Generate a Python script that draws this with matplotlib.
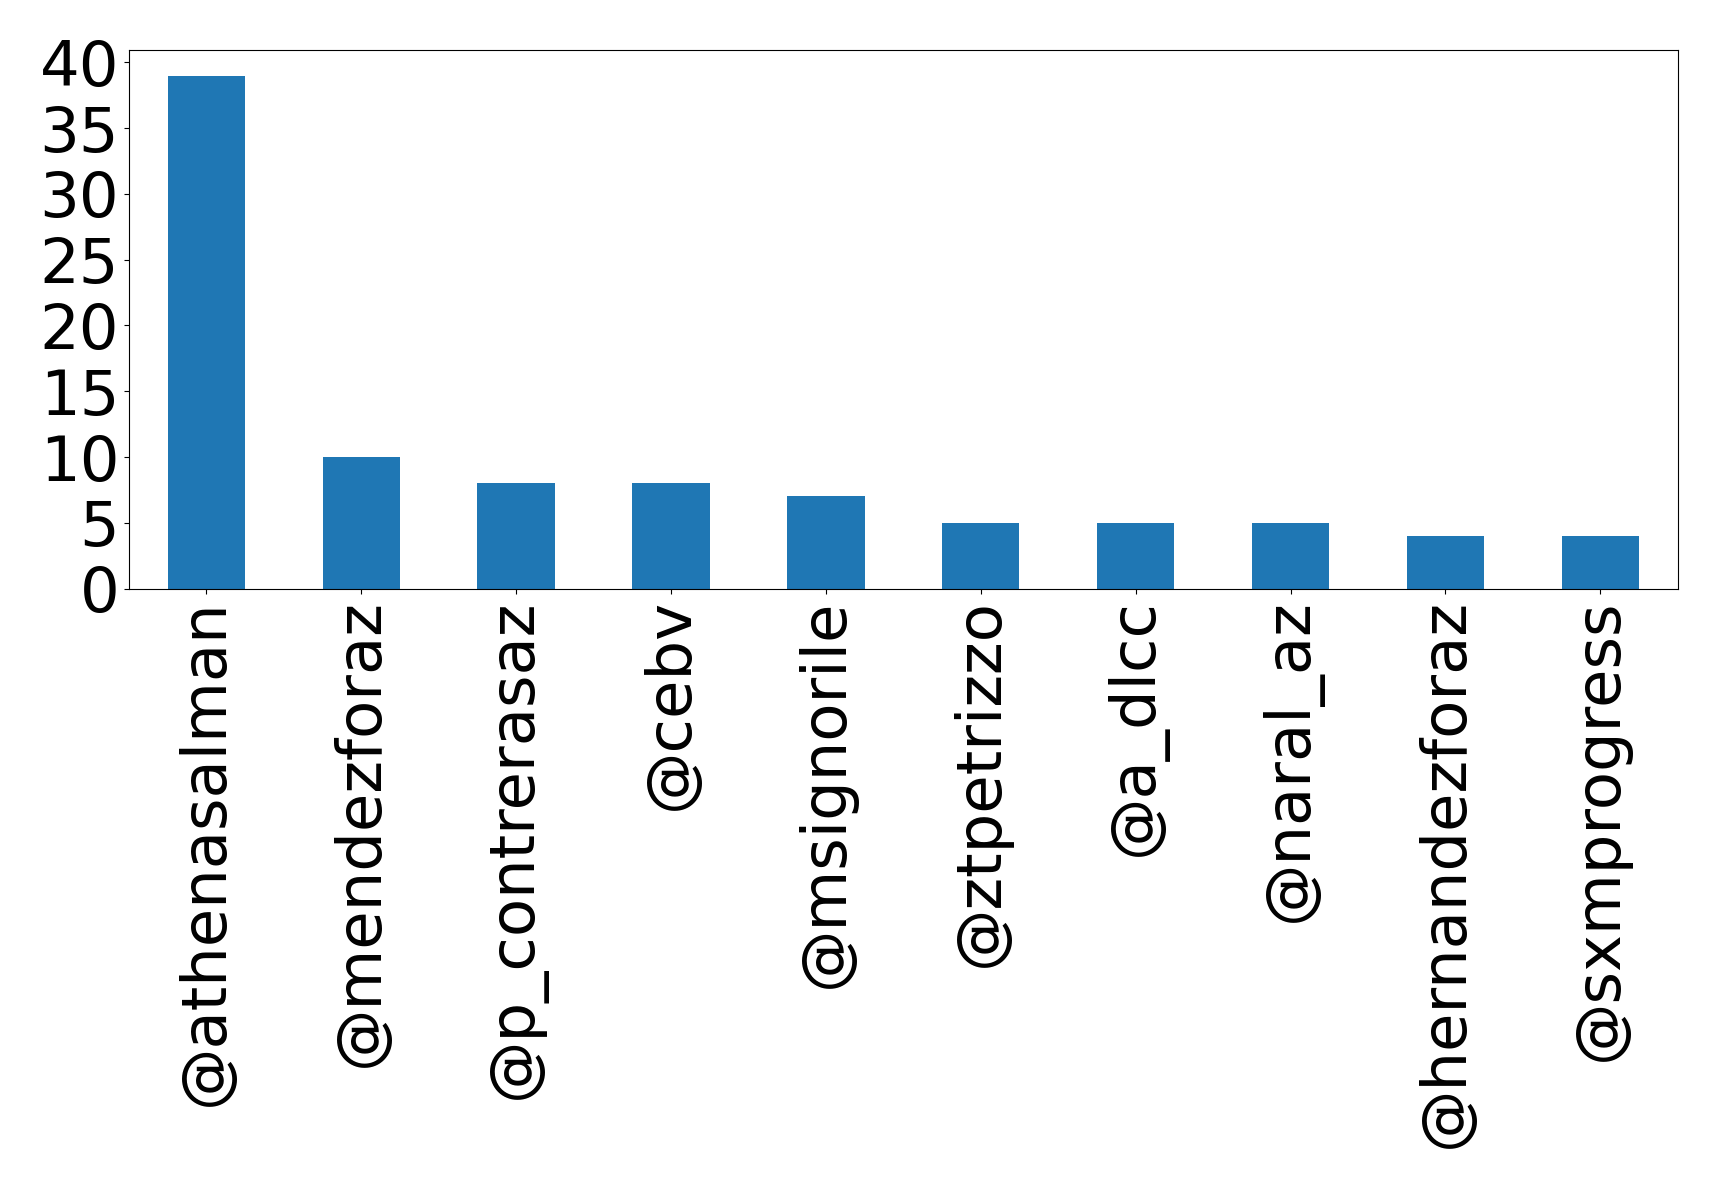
import matplotlib
matplotlib.use("Agg")
import matplotlib.pyplot as plt
import pandas as pd

users = ["@athenasalman", "@mendezforaz", "@p_contrerasaz", "@cebv", "@msignorile",
         "@ztpetrizzo", "@a_dlcc", "@naral_az", "@hernandezforaz", "@sxmprogress"]
counts = [39, 10, 8, 8, 7, 5, 5, 5, 4, 4]

s = pd.Series(counts, index=users)

fig = plt.figure(figsize=(17.19, 11.89), dpi=100)
ax = fig.add_axes([0.075, 0.505, 0.901, 0.453])
s.plot(kind="bar", ax=ax, color="#1f77b4", fontsize=45)
ax.set_yticks(range(0, 41, 5))

plt.savefig("out.png", dpi=100)
